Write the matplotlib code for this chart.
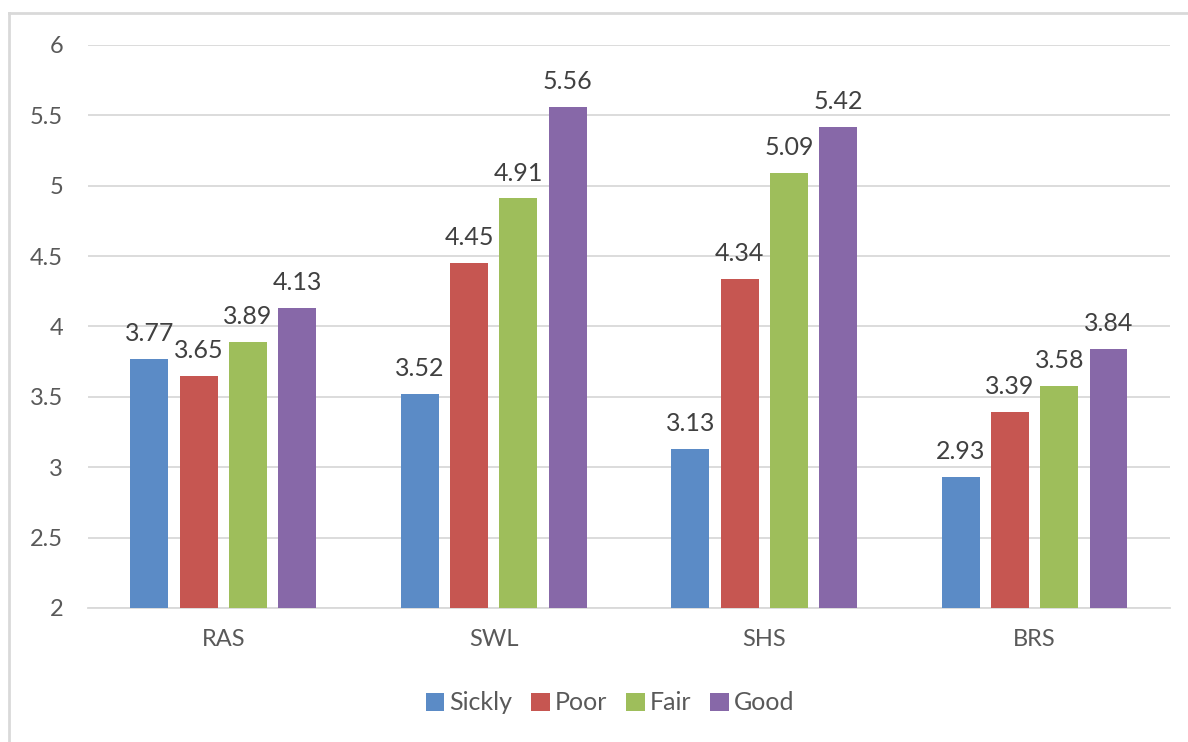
import matplotlib
matplotlib.use("Agg")
import matplotlib.pyplot as plt
from matplotlib.lines import Line2D
import numpy as np

categories = ["RAS", "SWL", "SHS", "BRS"]
series_names = ["Sickly", "Poor", "Fair", "Good"]
sickly = [3.77, 3.52, 3.13, 2.93]
poor = [3.65, 4.45, 4.34, 3.39]
fair = [3.89, 4.91, 5.09, 3.58]
good = [4.13, 5.56, 5.42, 3.84]
yticks = [2, 2.5, 3, 3.5, 4, 4.5, 5, 5.5, 6]
ytick_labels = ["2", "2.5", "3", "3.5", "4", "4.5", "5", "5.5", "6"]

colors = ["#5B8BC6", "#C65651", "#9EBE5B", "#8768A8"]

plt.rcParams['font.family'] = ['Lato', 'DejaVu Sans']

fig = plt.figure(figsize=(11.88, 7.42), dpi=100)
ax = fig.add_axes([0.0741, 0.1806, 0.9107, 0.7588])

# figure border (left and top)
fig.add_artist(Line2D([9/1188, 9/1188], [0, 1 - 13/742], transform=fig.transFigure, color="#d9d9d9", lw=2))
fig.add_artist(Line2D([9/1188, 1], [1 - 13/742, 1 - 13/742], transform=fig.transFigure, color="#d9d9d9", lw=2))

x = np.arange(len(categories))
width = 0.14
pitch = 0.182
data = [sickly, poor, fair, good]
for i, (name, vals, c) in enumerate(zip(series_names, data, colors)):
    pos = x + (i - 1.5) * pitch
    bars = ax.bar(pos, vals, width, color=c, label=name, zorder=3, bottom=0)
    for b, v in zip(bars, vals):
        ax.annotate(f"{v:.2f}", (b.get_x() + b.get_width() / 2, v),
                    xytext=(0, 10), textcoords="offset points",
                    ha="center", va="bottom", fontsize=18, color="#404040")

ax.set_ylim(2, 6)
ax.set_xlim(-0.5, len(categories) - 0.5)
ax.set_yticks(yticks)
ax.set_yticklabels(ytick_labels)
ax.set_xticks(x)
ax.set_xticklabels(categories)
ax.grid(axis="y", color="#d9d9d9", lw=1.3, zorder=0)
ax.set_axisbelow(True)
for s in ["top", "right", "left"]:
    ax.spines[s].set_visible(False)
ax.spines["bottom"].set_color("#d9d9d9")
ax.spines["bottom"].set_linewidth(1.3)
ax.tick_params(axis="both", length=0, labelsize=17, labelcolor="#595959")
ax.tick_params(axis="y", pad=18)
ax.tick_params(axis="x", pad=15)

leg = fig.legend(loc="center", bbox_to_anchor=(610/1188, 1 - 703/742), ncol=4,
                 frameon=False, fontsize=18, handlelength=0.75, handleheight=0.75,
                 handletextpad=0.2, columnspacing=0.75, labelcolor="#595959")

fig.savefig("out.png", dpi=100, facecolor="white")
